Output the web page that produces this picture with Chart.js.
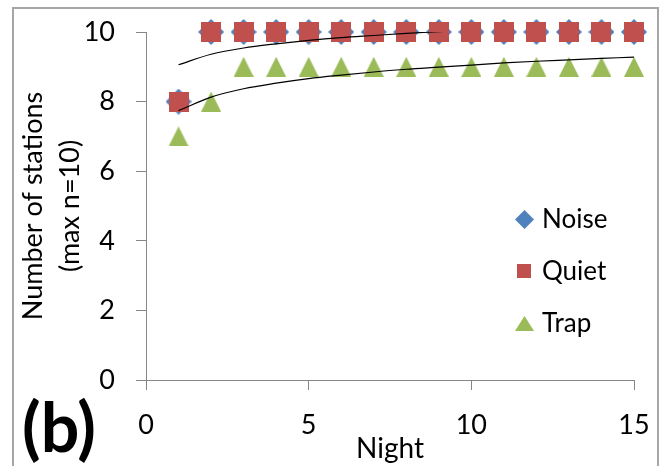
<!DOCTYPE html>
<html>
<head>
<meta charset="utf-8">
<script src="https://cdn.jsdelivr.net/npm/chart.js@4/dist/chart.umd.min.js"></script>
<style>
  html, body { margin: 0; padding: 0; background: #fff; overflow: hidden; }
  #wrap { position: relative; width: 661px; height: 466px; }
  #frame { position: absolute; left: 12px; top: 7px; width: 643px; height: 480px;
           border: 2px solid #a6a6a6; border-bottom: none; pointer-events: none; }
  canvas { position: absolute; left: 0; top: 0; }
</style>
</head>
<body>
<div id="wrap">
  <div id="frame"></div>
  <canvas id="chart" width="661" height="466"></canvas>
</div>
<script>
// nights and station counts
const nights = [1, 2, 3, 4, 5, 6, 7, 8, 9, 10, 11, 12, 13, 14, 15];
const noise = [8, 10, 10, 10, 10, 10, 10, 10, 10, 10, 10, 10, 10, 10, 10];
const quiet = [8, 10, 10, 10, 10, 10, 10, 10, 10, 10, 10, 10, 10, 10, 10];
const trap = [7, 8, 9, 9, 9, 9, 9, 9, 9, 9, 9, 9, 9, 9, 9];

// the two thin black (log) trend lines, estimated at each night
const upperTrend = [9.06, 9.36, 9.54, 9.66, 9.76, 9.84, 9.90, 9.96, 10.01, 10.06, 10.10, 10.14, 10.17, 10.21, 10.24];
const lowerTrend = [7.74, 8.13, 8.37, 8.53, 8.66, 8.76, 8.85, 8.93, 8.99, 9.05, 9.11, 9.16, 9.20, 9.24, 9.28];

const xTicks = [0, 5, 10, 15];
const yTicks = [0, 2, 4, 6, 8, 10];
const seriesNames = ['Noise', 'Quiet', 'Trap'];

const BLUE = '#4f81bd', RED = '#c0504d', GREEN = '#9bbb59';
const AXIS = '#868686';
const FONT = 'Lato';

// excel-like markers, centred on their bounding box
function marker(shape, w, h, color) {
  const c = document.createElement('canvas');
  c.width = w; c.height = h;
  const g = c.getContext('2d');
  g.fillStyle = color;
  g.beginPath();
  if (shape === 'diamond') {
    g.moveTo(w / 2, 0); g.lineTo(w, h / 2); g.lineTo(w / 2, h); g.lineTo(0, h / 2);
  } else if (shape === 'triangle') {
    g.moveTo(w / 2, 0); g.lineTo(w, h); g.lineTo(0, h);
  } else {
    g.rect(0, 0, w, h);
  }
  g.closePath();
  g.fill();
  return c;
}

const markers = {
  Noise: marker('diamond', 26, 26, BLUE),
  Quiet: marker('square', 20, 20, RED),
  Trap: marker('triangle', 20, 20, GREEN),
};
const legendMarkers = {
  Noise: marker('diamond', 19, 19, BLUE),
  Quiet: marker('square', 14, 14, RED),
  Trap: marker('triangle', 19, 15, GREEN),
};

const pts = (ys) => nights.map((x, i) => ({ x, y: ys[i] }));

// keep the plot box where the layout padding puts it
function noLabelPadding(s) {
  s.paddingTop = 0; s.paddingBottom = 0; s.paddingLeft = 0; s.paddingRight = 0;
}

// legend sits inside the plot area, plus the "(b)" panel label
const panelPlugin = {
  id: 'panelExtras',
  afterDraw(chart) {
    const { ctx, chartArea } = chart;
    ctx.save();
    ctx.fillStyle = '#000';
    ctx.textBaseline = 'middle';
    ctx.textAlign = 'left';
    ctx.font = `26px ${FONT}`;
    seriesNames.forEach((name, i) => {
      const cx = chartArea.right - 110;
      const cy = chartArea.top + 187 + i * 52;
      const m = legendMarkers[name];
      ctx.drawImage(m, Math.round(cx - m.width / 2), Math.round(cy - m.height / 2));
      ctx.fillText(name, cx + 18, cy + 1);
    });
    ctx.font = `bold 68px ${FONT}`;
    ctx.textBaseline = 'alphabetic';
    ctx.fillText('(b)', 22, 452);
    ctx.restore();
  },
};

new Chart(document.getElementById('chart'), {
  type: 'scatter',
  data: {
    datasets: [
      { label: 'Noise', data: pts(noise), pointStyle: markers.Noise, order: 2, clip: false },
      { label: 'Quiet', data: pts(quiet), pointStyle: markers.Quiet, order: 1, clip: false },
      { label: 'Trap', data: pts(trap), pointStyle: markers.Trap, order: 3, clip: false },
      {
        label: 'trend1', data: pts(upperTrend), type: 'line', showLine: true, order: 0,
        borderColor: '#000', borderWidth: 1.2, pointRadius: 0, cubicInterpolationMode: 'monotone',
      },
      {
        label: 'trend2', data: pts(lowerTrend), type: 'line', showLine: true, order: 0,
        borderColor: '#000', borderWidth: 1.2, pointRadius: 0, cubicInterpolationMode: 'monotone',
      },
    ],
  },
  options: {
    responsive: false,
    animation: false,
    events: [],
    layout: { padding: { top: 32, right: 27, left: 0, bottom: 0 } },
    plugins: { legend: { display: false }, tooltip: { enabled: false } },
    scales: {
      x: {
        type: 'linear', min: 0, max: 15,
        afterBuildTicks: (s) => { s.ticks = xTicks.map((v) => ({ value: v })); },
        afterFit: (s) => { s.height = 86; noLabelPadding(s); },
        ticks: { color: '#000', padding: 19, font: { family: FONT, size: 27 } },
        grid: { drawOnChartArea: false, color: AXIS, tickLength: 10 },
        border: { color: AXIS, width: 1 },
        title: { display: true, text: 'Night', color: '#000', padding: { top: 0, bottom: 0 }, font: { family: FONT, size: 28 } },
      },
      y: {
        min: 0, max: 10,
        afterBuildTicks: (s) => { s.ticks = yTicks.map((v) => ({ value: v })); },
        afterFit: (s) => { s.width = 146; noLabelPadding(s); },
        ticks: { color: '#000', padding: 21, font: { family: FONT, size: 27 } },
        grid: { drawOnChartArea: false, color: AXIS, tickLength: 10 },
        border: { color: AXIS, width: 1 },
        title: {
          display: true, text: ['Number of stations', '(max n=10)'], color: '#000',
          padding: { top: 14, bottom: 0 }, font: { family: FONT, size: 27, lineHeight: 1.4 },
        },
      },
    },
  },
  plugins: [panelPlugin],
});
</script>
</body>
</html>
